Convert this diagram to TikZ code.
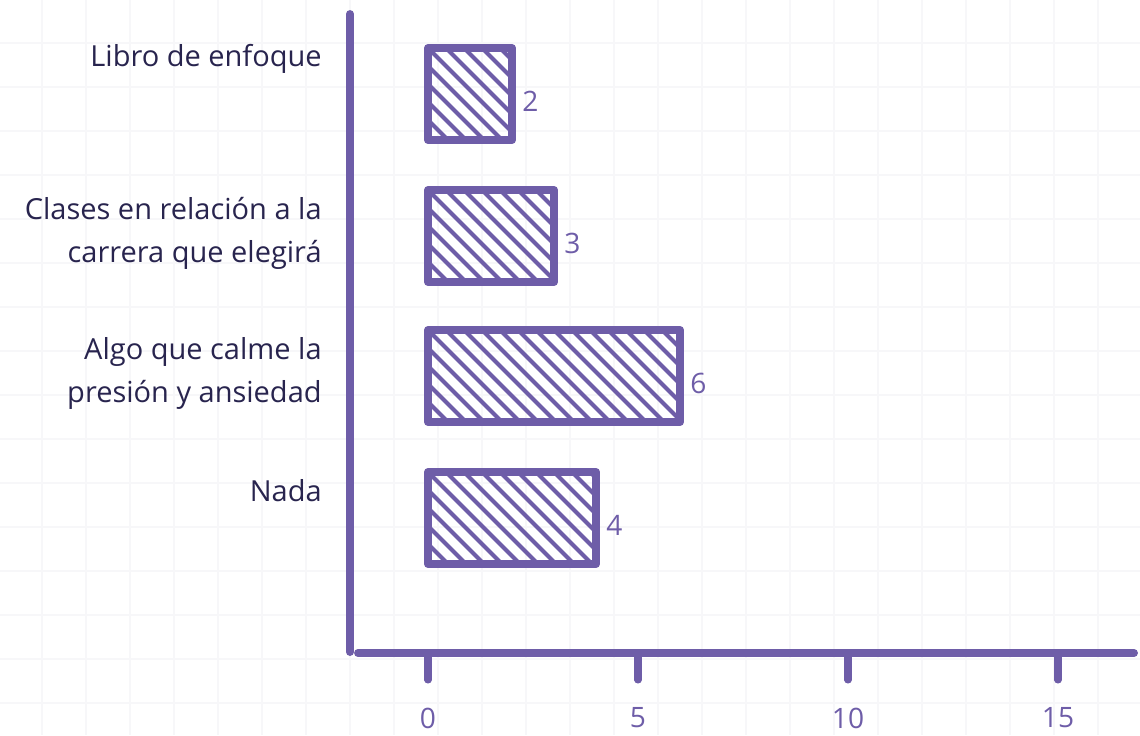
\documentclass[tikz,border=0pt]{standalone}
\usepackage{fontspec}
\setmainfont{Open Sans}
\usepackage{tikz}

\definecolor{barpurple}{HTML}{6E5DA8}
\definecolor{labelink}{HTML}{28244E}
\definecolor{gridgray}{HTML}{F7F7F9}

\begin{document}
\begin{tikzpicture}[x=0.02cm, y=-0.02cm,
    axis/.style={barpurple, line width=4.5pt, line cap=round},
    tick/.style={barpurple, line width=4pt, line cap=round},
    barline/.style={barpurple, line width=4.5pt, line cap=round, line join=round},
    hatch/.style={barpurple, line width=2.4pt},
    catlabel/.style={labelink, font=\fontsize{16.5}{24.5}\selectfont, align=right, anchor=north east, inner sep=0pt},
    numlabel/.style={barpurple, font=\fontsize{16}{18}\selectfont, inner sep=0pt}]
    \useasboundingbox (0, 0) rectangle (1140, 735);

    % faint grid in the background
    \foreach \gx in {42, 86, ..., 1140}
      \draw [gridgray, line width=1pt] (\gx, 0) -- (\gx, 735);
    \foreach \gy in {43, 87, ..., 735}
      \draw [gridgray, line width=1pt] (0, \gy) -- (1140, \gy);

    % axes
    \coordinate (ytop) at (350, 14);
    \coordinate (ybot) at (350, 652);
    \coordinate (xleft) at (358, 653);
    \coordinate (xright) at (1134, 653);
    \draw [axis] (ytop) -- (ybot);
    \draw [axis] (xleft) -- (xright);

    % ticks and tick labels
    \foreach \v in {0, 5, 10, 15} {
      \coordinate (t\v) at ({428+42*\v}, 655);
      \coordinate (tt\v) at ({428+42*\v}, 680);
      \draw [tick] (t\v) -- (tt\v);
      \node [numlabel] (tick\v) at ({428+42*\v}, 718) {\v};
    }

    % bars with hatching
    \foreach \y/\v/\name in {48/2/libro, 190/3/clases, 330/6/algo, 472/4/nada} {
      \begin{scope}
        \clip (428, \y) rectangle ({428+42*\v}, \y+92);
        \foreach \d in {-108, -90, ..., 260}
          \draw [hatch] ({428+\d}, \y) -- ++(100, 100);
      \end{scope}
      \draw [barline] (428, \y) rectangle ({428+42*\v}, \y+92);
      \node [numlabel, anchor=west] (val\name) at ({428+42*\v+10}, \y+53) {\v};
    }

    % category labels
    \node [catlabel] (libro) at (322, 44) {Libro de enfoque};
    \node [catlabel] (clases) at (322, 197) {Clases en relación a la\\carrera que elegirá};
    \node [catlabel] (algo) at (322, 337) {Algo que calme la\\presión y ansiedad};
    \node [catlabel] (nada) at (322, 479) {Nada};
  \end{tikzpicture}
\end{document}
